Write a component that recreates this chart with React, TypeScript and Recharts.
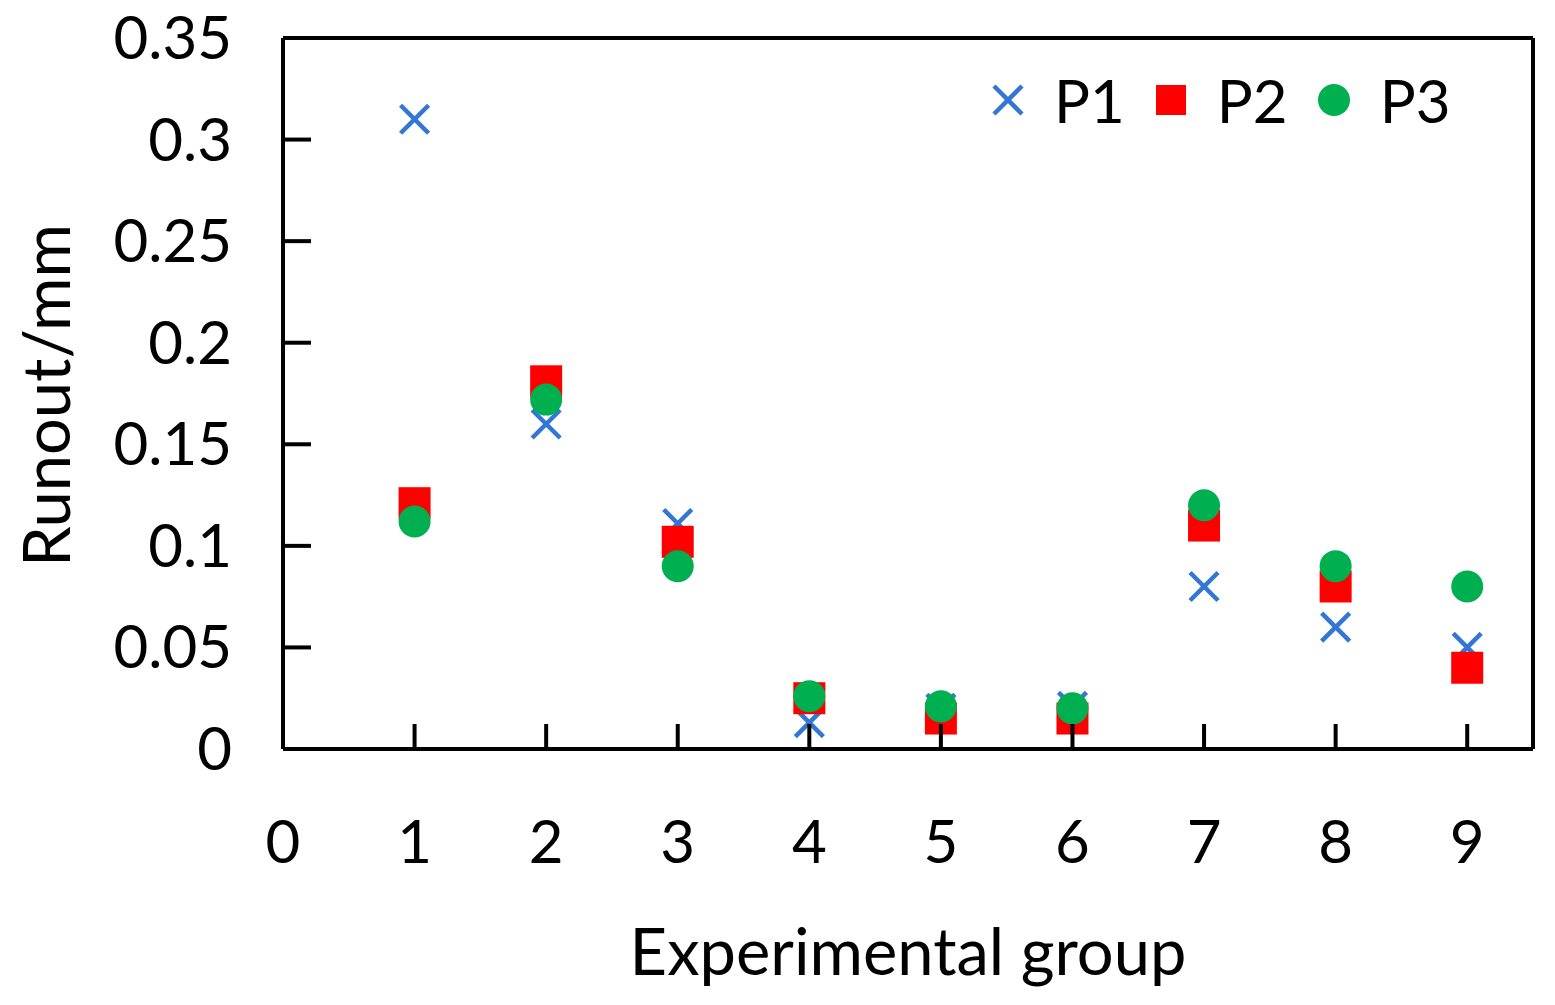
import React from 'react';
import {
  ScatterChart,
  Scatter,
  XAxis,
  YAxis,
  Legend,
  ReferenceLine,
  Label,
} from 'recharts';

const groups = [1, 2, 3, 4, 5, 6, 7, 8, 9];
const p1Values = [0.31, 0.16, 0.111, 0.013, 0.02, 0.021, 0.08, 0.06, 0.05];
const p2Values = [0.121, 0.181, 0.102, 0.025, 0.015, 0.015, 0.11, 0.08, 0.04];
const p3Values = [0.112, 0.172, 0.09, 0.026, 0.021, 0.02, 0.12, 0.09, 0.08];
const xTicks = [0, 1, 2, 3, 4, 5, 6, 7, 8, 9];
const yTicks = [0, 0.05, 0.1, 0.15, 0.2, 0.25, 0.3, 0.35];
const seriesNames = ['P1', 'P2', 'P3'];

const BLUE = '#3377D6';
const RED = '#FF0000';
const GREEN = '#00B050';
const FONT = 'Lato, "Open Sans", sans-serif';

const toPoints = (vals: number[]) => groups.map((g, i) => ({ x: g, y: vals[i] }));
const p1Data = toPoints(p1Values);
const p2Data = toPoints(p2Values);
const p3Data = toPoints(p3Values);

const CrossShape = (props: any) => {
  const { cx, cy } = props;
  const h = 14;
  return (
    <g>
      <line x1={cx - h} y1={cy - h} x2={cx + h} y2={cy + h} stroke={BLUE} strokeWidth={4.5} />
      <line x1={cx - h} y1={cy + h} x2={cx + h} y2={cy - h} stroke={BLUE} strokeWidth={4.5} />
    </g>
  );
};

const SquareShape = (props: any) => {
  const { cx, cy } = props;
  const s = 32;
  return <rect x={cx - s / 2} y={cy - s / 2} width={s} height={s} fill={RED} />;
};

const CircleShape = (props: any) => {
  const { cx, cy } = props;
  return <circle cx={cx} cy={cy} r={16} fill={GREEN} />;
};

const YTick = (props: any) => {
  const { x, y, payload } = props;
  return (
    <g>
      {payload.value !== 0 && <line x1={x} y1={y} x2={x + 28} y2={y} stroke="#000" strokeWidth={4} />}
      <text x={x - 51} y={y + 21} textAnchor="end" fontSize={60} fontFamily={FONT} fill="#000">
        {String(payload.value)}
      </text>
    </g>
  );
};

const XTick = (props: any) => {
  const { x, y, payload } = props;
  return (
    <g>
      {payload.value !== 0 && <line x1={x} y1={y} x2={x} y2={y - 25} stroke="#000" strokeWidth={4} />}
      <text x={x} y={y + 114} textAnchor="middle" fontSize={60} fontFamily={FONT} fill="#000">
        {String(payload.value)}
      </text>
    </g>
  );
};

const legendIcons = [
  (
    <svg width={32} height={32} key="i1">
      <line x1={2} y1={2} x2={30} y2={30} stroke={BLUE} strokeWidth={4.5} />
      <line x1={2} y1={30} x2={30} y2={2} stroke={BLUE} strokeWidth={4.5} />
    </svg>
  ),
  (
    <svg width={32} height={32} key="i2">
      <rect x={1} y={1} width={30} height={30} fill={RED} />
    </svg>
  ),
  (
    <svg width={32} height={32} key="i3">
      <circle cx={16} cy={16} r={16} fill={GREEN} />
    </svg>
  ),
];

const LegendContent = () => (
  <div style={{ display: 'flex', alignItems: 'center', height: 60, fontFamily: FONT, fontSize: 60, lineHeight: '60px', color: '#000', whiteSpace: 'nowrap' }}>
    {seriesNames.map((n, i) => (
      <div key={n} style={{ display: 'flex', alignItems: 'center', marginRight: i < 2 ? 30 : 0 }}>
        {legendIcons[i]}
        <span style={{ marginLeft: 30 }}>{n}</span>
      </div>
    ))}
  </div>
);

export default function App() {
  return (
    <div style={{ position: 'absolute', left: 0, top: 0, width: 1555, height: 1005, background: '#fff' }}>
      <style>{'body{margin:0;}'}</style>
      <ScatterChart
        width={1555}
        height={1005}
        margin={{ top: 38, right: 22, bottom: 255, left: 282 }}
      >
        <XAxis
          type="number"
          dataKey="x"
          domain={[0, 9.5]}
          ticks={xTicks}
          height={1}
          tickSize={0}
          tickMargin={0}
          tick={<XTick />}
          tickLine={false}
          axisLine={{ stroke: '#000', strokeWidth: 4 }}
          allowDataOverflow
          interval={0}
        >
          <Label
            content={(p: any) => {
              const vb = p.viewBox;
              return (
                <text x={vb.x + vb.width / 2} y={vb.y + 226} textAnchor="middle" fontSize={65} fontFamily={FONT} fill="#000">
                  Experimental group
                </text>
              );
            }}
          />
        </XAxis>
        <YAxis
          type="number"
          dataKey="y"
          domain={[0, 0.35]}
          ticks={yTicks}
          width={1}
          tickSize={0}
          tickMargin={0}
          tick={<YTick />}
          tickLine={false}
          axisLine={{ stroke: '#000', strokeWidth: 4 }}
          allowDataOverflow
          interval={0}
        >
          <Label
            content={(p: any) => {
              const vb = p.viewBox;
              const cx = vb.x + vb.width - 213;
              const cy = vb.y + vb.height / 2 + 2;
              return (
                <text x={cx} y={cy} transform={`rotate(-90 ${cx} ${cy})`} textAnchor="middle" fontSize={65} fontFamily={FONT} fill="#000">
                  Runout/mm
                </text>
              );
            }}
          />
        </YAxis>
        <ReferenceLine y={0.35} stroke="#000" strokeWidth={4} />
        <ReferenceLine x={9.5} stroke="#000" strokeWidth={4} />
        <Legend
          layout="vertical"
          align="center"
          verticalAlign="middle"
          content={<LegendContent />}
          wrapperStyle={{ left: 992, top: 70, width: 'auto', height: 60 }}
        />
        <Scatter name={seriesNames[0]} data={p1Data} shape={<CrossShape />} isAnimationActive={false} />
        <Scatter name={seriesNames[1]} data={p2Data} shape={<SquareShape />} isAnimationActive={false} />
        <Scatter name={seriesNames[2]} data={p3Data} shape={<CircleShape />} isAnimationActive={false} />
      </ScatterChart>
    </div>
  );
}
